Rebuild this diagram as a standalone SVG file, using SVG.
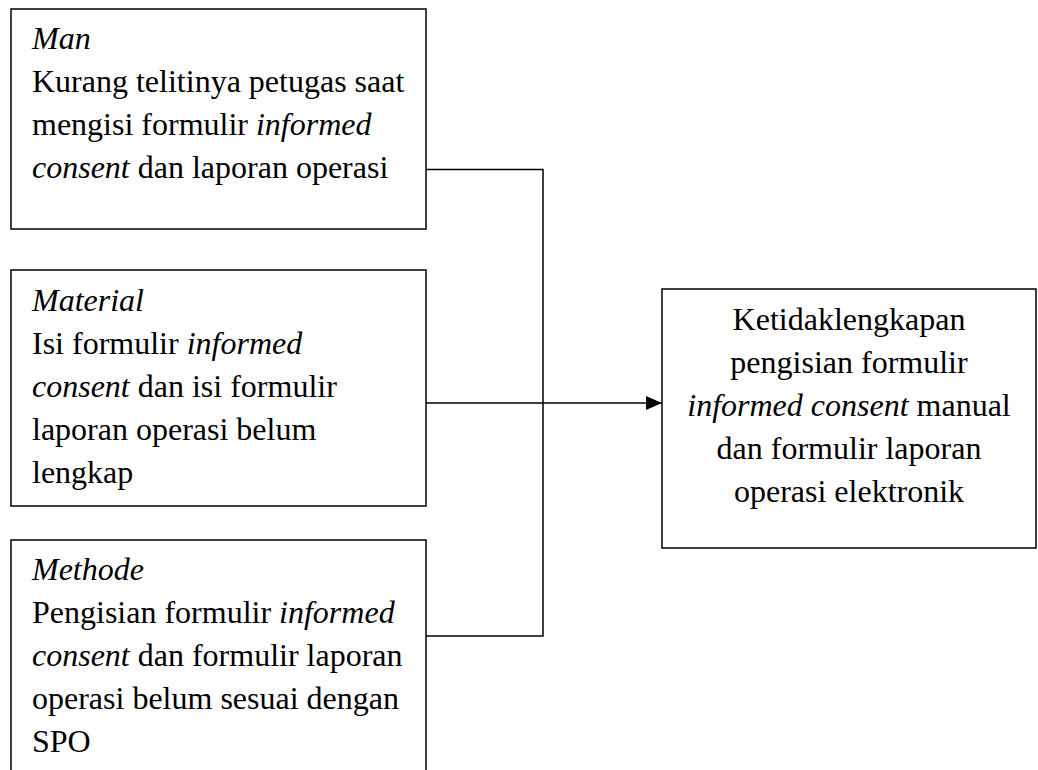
<svg xmlns="http://www.w3.org/2000/svg" width="1038" height="770" viewBox="0 0 1038 770">
<style>
.box{fill:#fff;stroke:#000;stroke-width:1.5}
.t{font-family:"Liberation Serif","Times New Roman",serif;font-size:32px;fill:#000}
.c{text-anchor:middle}
.i{font-style:italic}
.ln{fill:none;stroke:#000;stroke-width:1.5}
</style>
<defs>
<marker id="arr" markerWidth="16" markerHeight="14" refX="16" refY="7" orient="auto" markerUnits="userSpaceOnUse">
<path d="M0,0 L16,7 L0,14 Z" fill="#000"/>
</marker>
</defs>
<rect width="1038" height="770" fill="#fff"/>
<g id="connectors">
<polyline class="ln" points="426,169.5 543,169.5 543,636 426,636"/>
<line class="ln" x1="426" y1="403" x2="662" y2="403" marker-end="url(#arr)"/>
</g>
<g id="man">
<rect class="box" x="11" y="9" width="415" height="220"/>
<text class="t" x="32" y="49"><tspan class="i">Man</tspan></text>
<text class="t" x="32" y="92">Kurang telitinya petugas saat</text>
<text class="t" x="32" y="135">mengisi formulir <tspan class="i">informed</tspan></text>
<text class="t" x="32" y="178"><tspan class="i">consent</tspan> dan laporan operasi</text>
</g>
<g id="material">
<rect class="box" x="11" y="270" width="415" height="236"/>
<text class="t" x="32" y="311"><tspan class="i">Material</tspan></text>
<text class="t" x="32" y="354">Isi formulir <tspan class="i">informed</tspan></text>
<text class="t" x="32" y="397"><tspan class="i">consent</tspan> dan isi formulir</text>
<text class="t" x="32" y="440">laporan operasi belum</text>
<text class="t" x="32" y="483">lengkap</text>
</g>
<g id="methode">
<rect class="box" x="11" y="540" width="415" height="240"/>
<text class="t" x="32" y="580"><tspan class="i">Methode</tspan></text>
<text class="t" x="32" y="623">Pengisian formulir <tspan class="i">informed</tspan></text>
<text class="t" x="32" y="666"><tspan class="i">consent</tspan> dan formulir laporan</text>
<text class="t" x="32" y="709">operasi belum sesuai dengan</text>
<text class="t" x="32" y="752">SPO</text>
</g>
<g id="result">
<rect class="box" x="662" y="289" width="374" height="259"/>
<text class="t c" x="849" y="330">Ketidaklengkapan</text>
<text class="t c" x="849" y="373">pengisian formulir</text>
<text class="t c" x="849" y="416"><tspan class="i">informed consent</tspan> manual</text>
<text class="t c" x="849" y="459">dan formulir laporan</text>
<text class="t c" x="849" y="502">operasi elektronik</text>
</g>
</svg>
